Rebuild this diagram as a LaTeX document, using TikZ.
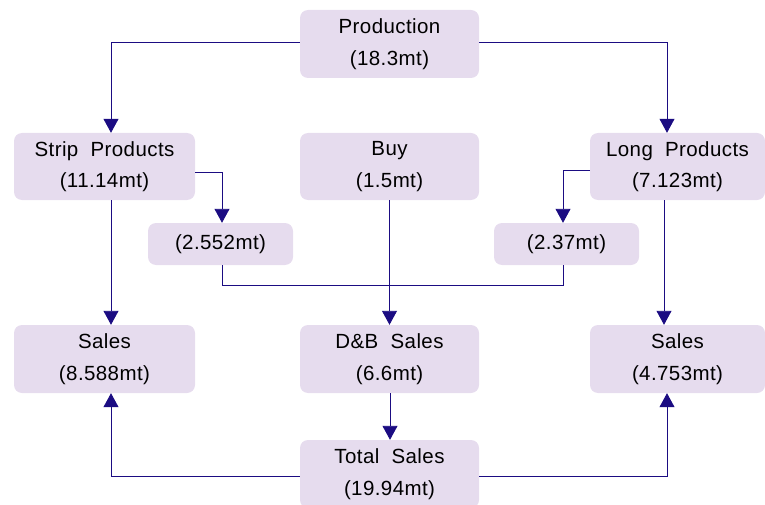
\documentclass[tikz,border=0pt]{standalone}
\usepackage{fontspec}
\setmainfont{Liberation Sans}[LetterSpace=2]
\usetikzlibrary{arrows.meta}
\definecolor{boxfill}{HTML}{E6DCEE}
\definecolor{linecol}{HTML}{1B0C82}
\begin{document}
\begin{tikzpicture}[x=1pt,y=-1pt,
  box/.style={rectangle,rounded corners=8pt,fill=boxfill,draw=none,inner sep=0pt,
    align=center,font=\fontsize{20.5}{31.5}\selectfont},
  conn/.style={draw=linecol,line width=0.9pt},
  arr/.style={conn,-{Triangle[width=15pt,length=14pt]}}]
\clip (0,0) rectangle (765,505);
\useasboundingbox (0,0) rectangle (765,505);
\node[box,minimum width=179pt,minimum height=68pt] (prod) at (389.5,44) {Production\\(18.3mt)};
\node[box,minimum width=181pt,minimum height=67pt] (strip) at (104.5,166.5) {Strip\ \ Products\\(11.14mt)};
\node[box,minimum width=179pt,minimum height=67pt] (buy) at (389.5,166.5) {Buy\\(1.5mt)};
\node[box,minimum width=175pt,minimum height=67pt] (long) at (677.5,166.5) {Long\ \ Products\\(7.123mt)};
\node[box,minimum width=145pt,minimum height=42pt] (sa) at (220.5,244) {(2.552mt)};
\node[box,minimum width=145pt,minimum height=42pt] (la) at (566.5,244) {(2.37mt)};
\node[box,minimum width=181pt,minimum height=68pt] (salesL) at (104.5,359) {Sales\\(8.588mt)};
\node[box,minimum width=179pt,minimum height=68pt] (db) at (389.5,359) {D\&B\ \ Sales\\(6.6mt)};
\node[box,minimum width=175pt,minimum height=68pt] (salesR) at (677.5,359) {Sales\\(4.753mt)};
\node[box,minimum width=179pt,minimum height=68pt] (total) at (389.5,474) {Total\ \ Sales\\(19.94mt)};
\coordinate (jn) at (0,285);
\coordinate (laS) at ([xshift=-3.5pt]la.south);
\coordinate (saS) at ([xshift=1.5pt]sa.south);
% production branches
\draw[arr] ([yshift=2pt]prod.west) -| ([xshift=6.5pt]strip.north);
\draw[arr] ([yshift=2pt]prod.east) -| ([xshift=-10.5pt]long.north);
% side arrows
\draw[arr] ([yshift=-5.5pt]strip.east) -| ([xshift=1.5pt]sa.north);
\draw[arr] ([yshift=-3.5pt]long.west) -| ([xshift=-3.5pt]la.north);
% verticals to sales
\draw[arr] ([xshift=6.5pt]strip.south) -- ([xshift=6.5pt]salesL.north);
\draw[arr] ([xshift=-13.5pt]long.south) -- ([xshift=-13.5pt]salesR.north);
\draw[arr] (buy.south) -- (db.north);
% joining line
\draw[conn] (saS) |- (jn -| laS) -- (laS);
% total
\draw[arr] ([xshift=0.5pt]db.south) -- ([xshift=0.5pt]total.north);
\draw[arr] ([yshift=-2pt]total.west) -| ([xshift=6.5pt]salesL.south);
\draw[arr] ([yshift=-2pt]total.east) -| ([xshift=-10.5pt]salesR.south);
\end{tikzpicture}
\end{document}
